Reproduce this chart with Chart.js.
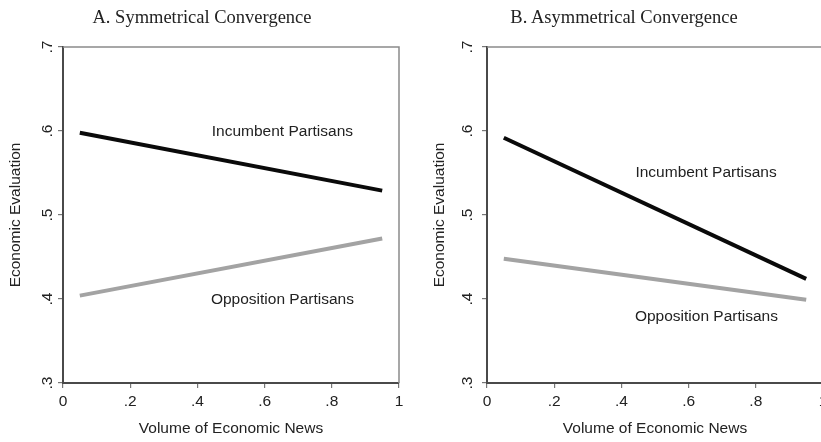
<!DOCTYPE html>
<html><head><meta charset="utf-8">
<script src="https://cdn.jsdelivr.net/npm/chart.js@4.4.1/dist/chart.umd.min.js"></script>
<style>
html,body{margin:0;padding:0;background:#fff;overflow:hidden;width:821px;height:442px;}
#wrap{position:relative;width:821px;height:442px;overflow:hidden;background:#fff;}
.pane{position:absolute;top:0;height:442px;}
.ttl{position:absolute;top:7px;line-height:20px;font-family:'Liberation Serif','Times New Roman',serif;font-size:18.5px;color:#222;white-space:nowrap;transform:translateX(-50%);}
</style></head><body>
<div id="wrap">
  <div class="pane" style="left:0;width:410px"><canvas id="cA" width="410" height="442" style="width:410px;height:442px"></canvas></div>
  <div class="pane" style="left:410px;width:430px"><canvas id="cB" width="430" height="442" style="width:430px;height:442px"></canvas></div>
  <div class="ttl" style="left:202px">A. Symmetrical Convergence</div>
  <div class="ttl" style="left:624px">B. Asymmetrical Convergence</div>
</div>
<script>
// ---- data ----
const newsVolume = [0.05, 0.95];
const symIncumbent = [0.598, 0.529];
const symOpposition = [0.404, 0.472];
const asymIncumbent = [0.592, 0.424];
const asymOpposition = [0.448, 0.399];
const xTickLabels = ['0', '.2', '.4', '.6', '.8', '1'];
const yTickLabels = ['.3', '.4', '.5', '.6', '.7'];
const seriesNames = ['Incumbent Partisans', 'Opposition Partisans'];
const xAxisTitle = 'Volume of Economic News';
const yAxisTitle = 'Economic Evaluation';

const SANS = "'Liberation Sans', Arial, Helvetica, sans-serif";
const TXT = '#222';

const decor = {
  id: 'decor',
  beforeDatasetsDraw(chart, args, o) {
    const {ctx, chartArea: a} = chart;
    ctx.save();
    ctx.strokeStyle = '#8a8a8a';
    ctx.lineWidth = 1.5;
    ctx.beginPath();
    ctx.moveTo(a.left, a.top);
    ctx.lineTo(a.right, a.top);
    ctx.lineTo(a.right, a.bottom);
    ctx.stroke();
    ctx.restore();
  },
  afterDraw(chart, args, o) {
    const {ctx} = chart;
    const xs = chart.scales.x, ys = chart.scales.y;
    ctx.save();
    ctx.fillStyle = TXT;
    ctx.font = '15.5px ' + SANS;
    ctx.textAlign = 'center';
    ctx.textBaseline = 'middle';
    ys.ticks.forEach((t, i) => {
      const py = ys.getPixelForValue(t.value);
      ctx.save();
      ctx.translate(o.yLabelX, py);
      ctx.rotate(-Math.PI / 2);
      ctx.fillText(yTickLabels[i], 0, 0);
      ctx.restore();
    });
    (o.labels || []).forEach(l => {
      ctx.fillText(l.text, xs.getPixelForValue(l.x), ys.getPixelForValue(l.y));
    });
    ctx.restore();
  }
};

function makeChart(id, inc, opp, cfg) {
  return new Chart(document.getElementById(id), {
    type: 'line',
    data: {
      datasets: [
        {label: seriesNames[0], data: newsVolume.map((x, i) => ({x, y: inc[i]})), borderColor: '#0a0a0a', borderWidth: 4, pointRadius: 0, fill: false, tension: 0},
        {label: seriesNames[1], data: newsVolume.map((x, i) => ({x, y: opp[i]})), borderColor: '#a3a3a3', borderWidth: 4, pointRadius: 0, fill: false, tension: 0}
      ]
    },
    options: {
      responsive: false,
      animation: false,
      events: [],
      layout: {padding: {top: 47, right: cfg.padR, left: 0, bottom: 0}},
      plugins: {
        legend: {display: false},
        tooltip: {enabled: false},
        title: {display: false},
        decor: {yLabelX: cfg.yLabelX, labels: cfg.labels}
      },
      scales: {
        x: {
          type: 'linear', min: 0, max: 1,
          ticks: {stepSize: 0.2, autoSkip: false, maxRotation: 0, minRotation: 0,
                  callback: (v, i) => xTickLabels[i],
                  font: {family: SANS, size: 15.5}, color: TXT, padding: 4},
          grid: {display: true, drawOnChartArea: false, drawTicks: true, tickLength: 5, color: '#777', lineWidth: 1.2},
          border: {display: true, color: '#4a4a4a', width: 2},
          title: {display: true, text: xAxisTitle, font: {family: SANS, size: 15.5}, color: TXT, padding: {top: 0, bottom: 4}},
          afterFit: s => { s.height = 59; s.paddingLeft = 0; s.paddingRight = 0; }
        },
        y: {
          type: 'linear', min: 0.3, max: 0.7,
          ticks: {stepSize: 0.1, display: false},
          grid: {display: true, drawOnChartArea: false, drawTicks: true, tickLength: 5, color: '#777', lineWidth: 1.2},
          border: {display: true, color: '#4a4a4a', width: 2},
          title: {display: true, text: yAxisTitle, font: {family: SANS, size: 15.5}, color: TXT, padding: {top: cfg.yTitlePad, bottom: 0}},
          afterFit: s => { s.width = cfg.yWidth; s.paddingTop = 0; s.paddingBottom = 0; }
        }
      }
    },
    plugins: [decor]
  });
}

makeChart('cA', symIncumbent, symOpposition, {
  padR: 11, yWidth: 63, yLabelX: 48, yTitlePad: 6,
  labels: [{text: seriesNames[0], x: 0.653, y: 0.599}, {text: seriesNames[1], x: 0.653, y: 0.399}]
});
makeChart('cB', asymIncumbent, asymOpposition, {
  padR: 17, yWidth: 77, yLabelX: 58, yTitlePad: 20,
  labels: [{text: seriesNames[0], x: 0.652, y: 0.55}, {text: seriesNames[1], x: 0.653, y: 0.379}]
});
</script>
</body></html>
